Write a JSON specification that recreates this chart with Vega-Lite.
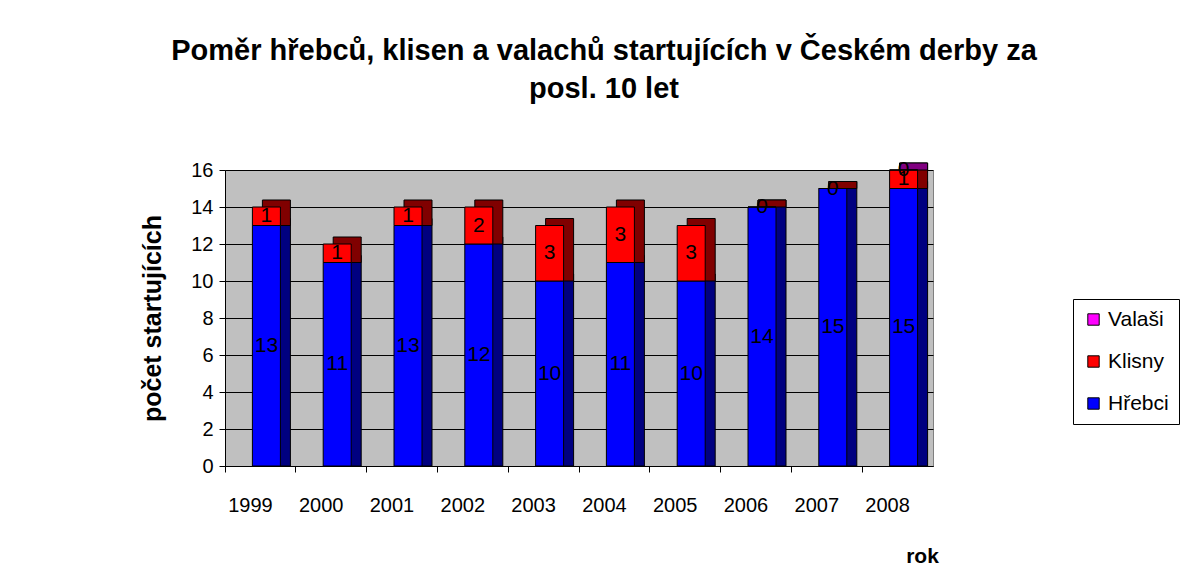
{
  "$schema": "https://vega.github.io/schema/vega-lite/v6.json",
  "autosize": {"type": "none"},
  "padding": {"left": 225, "top": 170, "right": 249, "bottom": 122},
  "width": 708,
  "height": 296,
  "background": "white",
  "config": {
    "font": "Liberation Sans",
    "view": {"fill": "#C0C0C0", "stroke": "#808080"}
  },
  "title": {
    "text": ["Poměr hřebců, klisen a valachů startujících v Českém derby za", "posl. 10 let"],
    "fontSize": 29,
    "fontWeight": "bold",
    "font": "Liberation Sans",
    "color": "black",
    "anchor": "middle",
    "dx": 25,
    "offset": 55,
    "lineHeight": 38
  },
  "data": {
    "values": [
      {"rok": "1999", "serie": "Hřebci", "n": 13, "o": 1},
      {"rok": "1999", "serie": "Klisny", "n": 1, "o": 2},
      {"rok": "2000", "serie": "Hřebci", "n": 11, "o": 1},
      {"rok": "2000", "serie": "Klisny", "n": 1, "o": 2},
      {"rok": "2001", "serie": "Hřebci", "n": 13, "o": 1},
      {"rok": "2001", "serie": "Klisny", "n": 1, "o": 2},
      {"rok": "2002", "serie": "Hřebci", "n": 12, "o": 1},
      {"rok": "2002", "serie": "Klisny", "n": 2, "o": 2},
      {"rok": "2003", "serie": "Hřebci", "n": 10, "o": 1},
      {"rok": "2003", "serie": "Klisny", "n": 3, "o": 2},
      {"rok": "2004", "serie": "Hřebci", "n": 11, "o": 1},
      {"rok": "2004", "serie": "Klisny", "n": 3, "o": 2},
      {"rok": "2005", "serie": "Hřebci", "n": 10, "o": 1},
      {"rok": "2005", "serie": "Klisny", "n": 3, "o": 2},
      {"rok": "2006", "serie": "Hřebci", "n": 14, "o": 1},
      {"rok": "2006", "serie": "Klisny", "n": 0, "o": 2},
      {"rok": "2007", "serie": "Hřebci", "n": 15, "o": 1},
      {"rok": "2007", "serie": "Klisny", "n": 0, "o": 2},
      {"rok": "2008", "serie": "Hřebci", "n": 15, "o": 1},
      {"rok": "2008", "serie": "Klisny", "n": 1, "o": 2},
      {"rok": "2008", "serie": "Valaši", "n": 0, "o": 3}
    ]
  },
  "transform": [
    {"stack": "n", "groupby": ["rok"], "sort": [{"field": "o", "order": "ascending"}], "as": ["y0", "y1"]}
  ],
  "resolve": {"scale": {"color": "independent"}, "legend": {"color": "independent"}},
  "layer": [
    {
      "mark": {"type": "bar", "width": 28, "xOffset": 16, "yOffset": -7, "stroke": "black", "strokeWidth": 1},
      "encoding": {
        "x": {
          "field": "rok",
          "type": "ordinal",
          "scale": {"paddingInner": 0, "paddingOuter": 0},
          "axis": {
            "title": "rok",
            "titleFontSize": 21,
            "titleFontWeight": "bold",
            "titleColor": "black",
            "titleX": 697,
            "titleY": 96,
            "titleAlign": "center",
            "titleBaseline": "alphabetic",
            "labelAngle": 0,
            "labelFontSize": 20,
            "labelColor": "black",
            "labelPadding": 23,
            "bandPosition": 0,
            "labelOffset": -10,
            "tickColor": "black",
            "tickSize": 6,
            "domainColor": "black",
            "grid": false
          }
        },
        "y": {
          "field": "y1",
          "type": "quantitative",
          "scale": {"domain": [0, 16], "nice": false},
          "axis": {
            "title": "počet startujících",
            "titleFontSize": 25,
            "titleFontWeight": "bold",
            "titleColor": "black",
            "titlePadding": 25,
            "tickCount": 8,
            "labelOverlap": false,
            "labelFontSize": 20,
            "labelColor": "black",
            "labelPadding": 6,
            "tickColor": "black",
            "tickSize": 6,
            "domainColor": "black",
            "gridColor": "black",
            "gridWidth": 1,
            "gridOpacity": 1
          }
        },
        "y2": {"field": "y0"},
        "color": {
          "field": "serie",
          "type": "nominal",
          "scale": {"domain": ["Valaši", "Klisny", "Hřebci"], "range": ["#800080", "#800000", "#000080"]},
          "legend": null
        }
      }
    },
    {
      "mark": {"type": "bar", "width": 28, "xOffset": 6, "stroke": "black", "strokeWidth": 1},
      "encoding": {
        "x": {"field": "rok", "type": "ordinal"},
        "y": {"field": "y1", "type": "quantitative"},
        "y2": {"field": "y0"},
        "color": {
          "field": "serie",
          "type": "nominal",
          "scale": {"domain": ["Valaši", "Klisny", "Hřebci"], "range": ["#FF00FF", "#FF0000", "#0000FF"]},
          "legend": {
            "title": null,
            "orient": "none",
            "legendX": 848,
            "legendY": 129,
            "symbolType": "square",
            "symbolSize": 130,
            "symbolStrokeColor": "black",
            "symbolStrokeWidth": 1,
            "labelFontSize": 21,
            "labelColor": "black",
            "rowPadding": 20,
            "padding": 10,
            "strokeColor": "black",
            "fillColor": "white",
            "labelOffset": 4
          }
        }
      }
    },
    {
      "transform": [
        {"fold": ["y0", "y1"], "as": ["k", "v"]},
        {"aggregate": [{"op": "mean", "field": "v", "as": "mid"}], "groupby": ["rok", "serie", "n"]}
      ],
      "mark": {"type": "text", "fontSize": 21, "color": "black", "dx": 6, "baseline": "middle", "align": "center"},
      "encoding": {
        "x": {"field": "rok", "type": "ordinal"},
        "y": {"field": "mid", "type": "quantitative"},
        "text": {"field": "n", "type": "quantitative"}
      }
    }
  ]
}
